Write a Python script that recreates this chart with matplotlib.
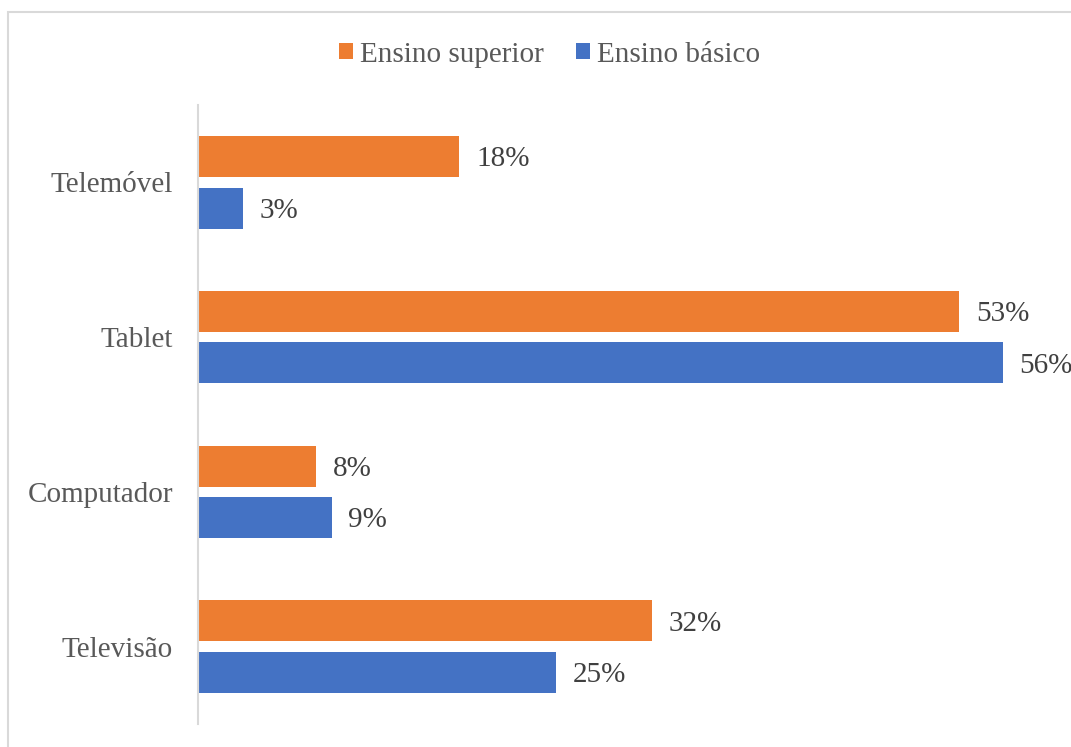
import numpy as np
import matplotlib
matplotlib.use('agg')
import matplotlib.pyplot as plt
from matplotlib.patches import Rectangle

plt.rcParams['font.family'] = ['Liberation Serif', 'DejaVu Serif']

##### Data (percent)
categories = ['Telemóvel', 'Tablet', 'Computador', 'Televisão']
superior = [18.2, 53.0, 8.2, 31.6]
basico = [3.1, 56.0, 9.3, 24.9]
series_names = ['Ensino superior', 'Ensino básico']
colors = ['#ED7D31', '#4472C4']

##### Plot
fig = plt.figure(figsize=(10.71, 7.47), dpi=100)
ax = fig.add_axes([198/1071, 1-724/747, (1060-198)/1071, (724-105)/747])

ypos = np.arange(len(categories))
bar_h = 0.265
off = 0.166
b1 = ax.barh(ypos - off, superior, height=bar_h, color=colors[0], label=series_names[0])
b2 = ax.barh(ypos + off, basico, height=bar_h, color=colors[1], label=series_names[1])

for bars, vals in [(b1, superior), (b2, basico)]:
    for rect, v in zip(bars, vals):
        ax.annotate('%d%%' % round(v), (rect.get_width(), rect.get_y() + rect.get_height()/2),
                    xytext=(12, -2), textcoords='offset points', va='center', ha='left',
                    fontsize=21, color='#404040')

ax.set_xlim(0, 60)
ax.set_ylim(3.5, -0.5)
ax.set_yticks(ypos)
ax.set_yticklabels(categories, fontsize=21, color='#595959')
ax.set_xticks([])
ax.tick_params(axis='y', length=0, pad=18)
for sp in ['top', 'right', 'bottom']:
    ax.spines[sp].set_visible(False)
ax.spines['left'].set_color('#D9D9D9')
ax.spines['left'].set_linewidth(1.5)

leg = fig.legend(loc='center', bbox_to_anchor=(0.513, 0.927), ncol=2, frameon=False,
                 fontsize=21, handlelength=0.48, handleheight=0.48, handletextpad=0.25,
                 columnspacing=1.1)
for t in leg.get_texts():
    t.set_color('#595959')

# chart border
fig.patches.append(Rectangle((7.5/1071, -0.1), 1.2, 1 - 12/747 + 0.1, transform=fig.transFigure,
                             fill=False, edgecolor='#D9D9D9', linewidth=1.5))

plt.savefig('out.png', dpi=100)
